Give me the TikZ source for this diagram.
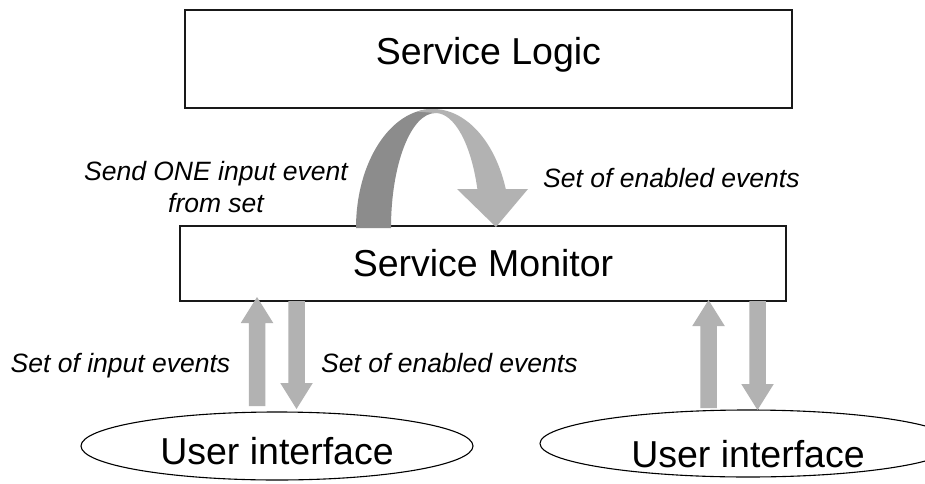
\documentclass[tikz,border=0pt]{standalone}
\usepackage{fontspec}
\setmainfont{Liberation Sans}
\usetikzlibrary{shapes.geometric,calc}
\definecolor{archdark}{RGB}{140,140,140}
\definecolor{archlight}{RGB}{178,178,178}

% vertical block arrow from #1 (tail) to #2 (tip)
\newcommand{\blkarrow}[2]{%
  \fill[arrowfill] let \p1=(#1), \p2=(#2), \n1={sign(\y2-\y1)*26} in
    (\x1-8.25pt,\y1) -- (\x1-8.25pt,\y2-\n1*1pt) -- (\x1-16.25pt,\y2-\n1*1pt)
    -- (\x2,\y2) -- (\x1+16.25pt,\y2-\n1*1pt) -- (\x1+8.25pt,\y2-\n1*1pt)
    -- (\x1+8.25pt,\y1) -- cycle;}

\begin{document}
\begin{tikzpicture}[x=1pt,y=1pt,
  box/.style={draw=black!90,line width=1.5pt,fill=white,inner sep=0pt},
  bigtext/.style={font=\fontsize{37.5}{40}\selectfont},
  note/.style={font=\fontsize{26.5}{32}\selectfont\itshape,inner sep=0pt,align=center},
  uinode/.style={ellipse,draw=black,line width=1.1pt,fill=white,inner sep=0pt,
    font=\fontsize{37.5}{40}\selectfont,text depth=0pt},
  arrowfill/.style={fill=archlight}]

\clip (0,0) rectangle (925,483);
\fill[white] (0,0) rectangle (925,483);

% main blocks
\node[box,bigtext,minimum width=607pt,text height=55pt,text depth=43pt,anchor=base]
  (logic) at (488.5,418) {Service Logic};
\node[box,bigtext,minimum width=606pt,text height=50pt,text depth=25pt,anchor=base]
  (monitor) at (483,207) {Service Monitor};

% curved arrow between monitor and logic
\fill[archdark] (356,255) arc[start angle=180,end angle=90,x radius=77,y radius=119]
  -- (435.5,370) arc[start angle=90,end angle=180,x radius=44.5,y radius=115] -- cycle;
\fill[archlight] ([shift={(433,255)}]102:77 and 119)
  arc[start angle=102,end angle=19.1,x radius=77,y radius=119]
  -- (528,294) -- (496,256) -- (457,294)
  -- ([shift={(435.5,255)}]19.8:44.5 and 115)
  arc[start angle=19.8,end angle=90,x radius=44.5,y radius=115] -- cycle;

% user interfaces
\node[uinode,minimum width=392pt,minimum height=68pt,text height=36pt]
  (uiL) at (277,37) {User interface};
\node[uinode,minimum width=416pt,minimum height=67pt,text height=47pt]
  (uiR) at (748,39.5) {User interface};

% block arrows between monitor and interfaces
\coordinate (uLtail) at (257,77);    \coordinate (uLtip) at (257,186);
\coordinate (dLtail) at (296.5,182); \coordinate (dLtip) at (296.5,74);
\coordinate (uRtail) at (708.5,75);  \coordinate (uRtip) at (708.5,183);
\coordinate (dRtail) at (757.5,182); \coordinate (dRtip) at (757.5,73);
\blkarrow{uLtail}{uLtip}
\blkarrow{dLtail}{dLtip}
\blkarrow{uRtail}{uRtip}
\blkarrow{dRtail}{dRtip}

% labels (base of a two-line node is the baseline of its last line)
\node[note,anchor=base] (sendlbl) at (216,271) {Send ONE input event\\from set};
\node[note,anchor=base west] (enabledtop) at (543,296) {Set of enabled events};
\node[note,anchor=base west] (inputlbl) at (10.5,111) {Set of input events};
\node[note,anchor=base west] (enabledlow) at (321,111) {Set of enabled events};
\end{tikzpicture}
\end{document}
